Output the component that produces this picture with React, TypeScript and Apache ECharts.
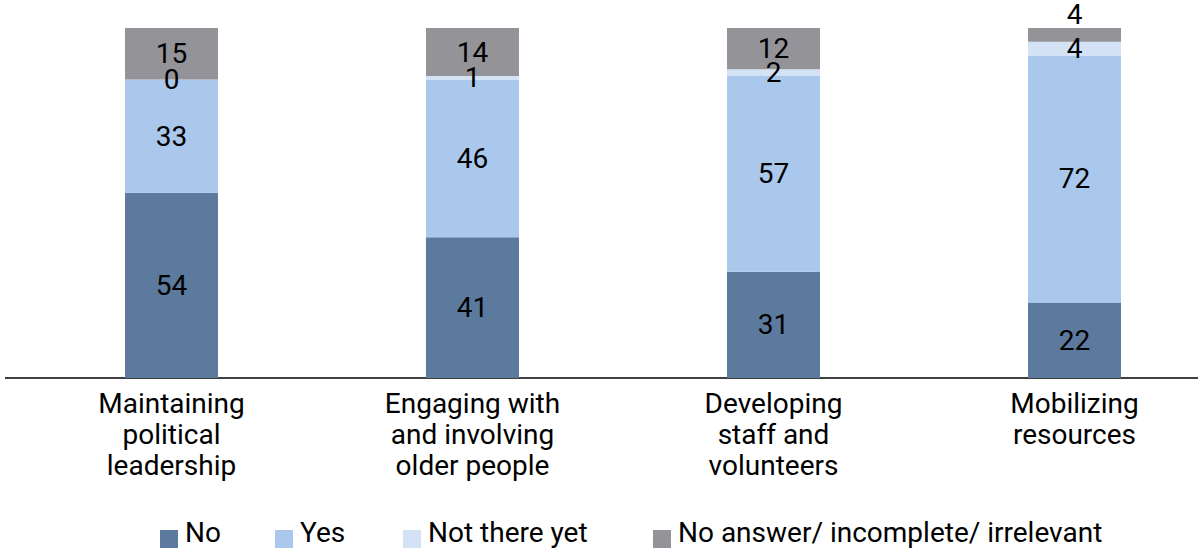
import React, { useEffect, useRef } from "react";
import * as echarts from "echarts";

const categories = [
  "Maintaining\npolitical\nleadership",
  "Engaging with\nand involving\nolder people",
  "Developing\nstaff and\nvolunteers",
  "Mobilizing\nresources",
];
const seriesNames = ["No", "Yes", "Not there yet", "No answer/ incomplete/ irrelevant"];
const noValues = [54, 41, 31, 22];
const yesValues = [33, 46, 57, 72];
const notYetValues = [0, 1, 2, 4];
const noAnswerValues = [15, 14, 12, 4];
const colors = ["#5C7A9E", "#A9C8EB", "#D3E2F5", "#949498"];

const FONT = "Roboto";
const FS = 28;

export default function App() {
  const ref = useRef<HTMLDivElement>(null);
  useEffect(() => {
    document.body.style.margin = "0";
    const chart = echarts.init(ref.current!, null, { renderer: "svg" });
    const labelStyle = {
      show: true,
      position: "inside",
      color: "#000",
      fontFamily: FONT,
      fontSize: FS,
    };
    const values = [noValues, yesValues, notYetValues, noAnswerValues];
    const series = values.map((vals, i) => ({
      name: seriesNames[i],
      type: "bar",
      stack: "total",
      barWidth: 93,
      itemStyle: { color: colors[i] },
      label: labelStyle,
      data: vals.map((v, j) => {
        if (i === 3 && j === 3) {
          return { value: v, label: { ...labelStyle, position: "top", distance: 0 } };
        }
        return v;
      }),
    }));
    const legendLefts = [160, 275, 403, 653];
    chart.setOption({
      animation: false,
      grid: {
        left: 21,
        width: 1204,
        top: 28,
        bottom: 177,
        containLabel: false,
        outerBoundsMode: "none",
      },
      xAxis: {
        type: "category",
        data: categories,
        axisLine: { show: false },
        axisTick: { show: false },
        axisLabel: {
          color: "#000",
          fontFamily: FONT,
          fontSize: FS,
          lineHeight: 31,
          margin: 10,
          interval: 0,
        },
      },
      yAxis: {
        type: "value",
        min: 0,
        max: 102,
        show: false,
        splitLine: { show: false },
      },
      legend: seriesNames.map((n, i) => ({
        data: [n],
        left: legendLefts[i],
        top: 518,
        padding: 0,
        itemWidth: 18,
        itemHeight: 18,
        itemGap: 0,
        icon: "rect",
        formatter: "{a|{name}}",
        textStyle: {
          color: "#000",
          fontFamily: FONT,
          fontSize: FS,
          rich: {
            a: {
              color: "#000",
              fontFamily: FONT,
              fontSize: FS,
              lineHeight: 28,
              padding: [0, 0, 14, 2],
            },
          },
        },
      })),
      graphic: [
        {
          type: "line",
          shape: { x1: 5, y1: 378, x2: 1198, y2: 378 },
          style: { stroke: "#000", lineWidth: 1.5 },
        },
      ],
      series,
    });
    return () => chart.dispose();
  }, []);
  return <div ref={ref} style={{ width: 1198, height: 555, overflow: "hidden" }} />;
}
